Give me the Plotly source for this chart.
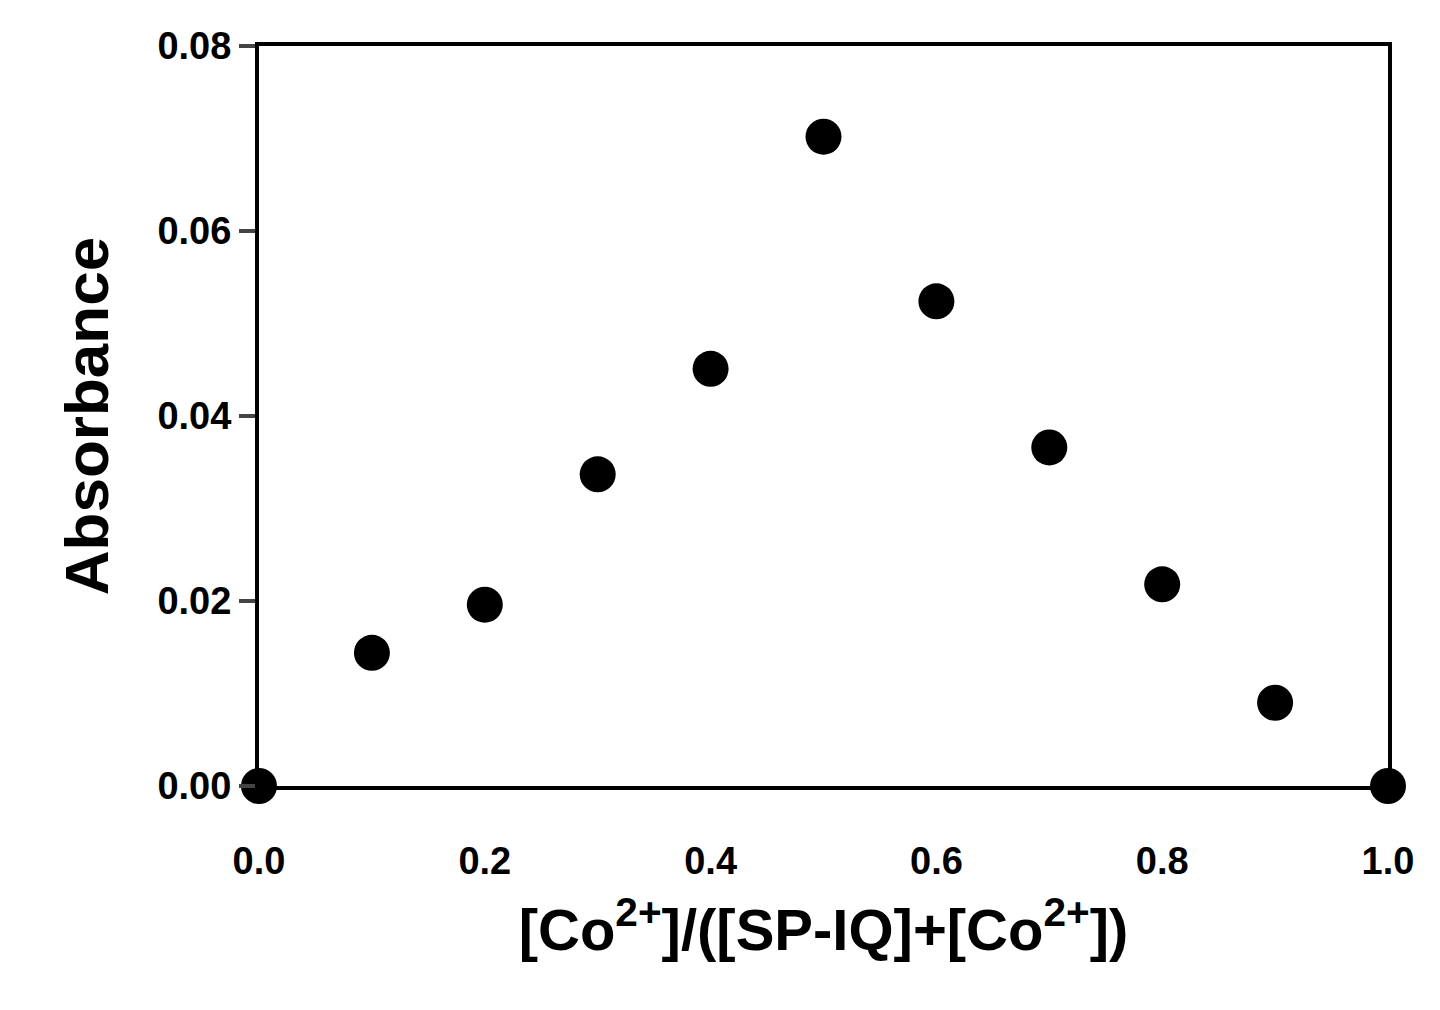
import plotly.graph_objects as go

# mole fraction of Co2+ vs absorbance (Job's plot)
mole_fraction = [0.0, 0.1, 0.2, 0.3, 0.4, 0.5, 0.6, 0.7, 0.8, 0.9, 1.0]
absorbance = [0.0, 0.0144, 0.0196, 0.0337, 0.0451, 0.0702, 0.0524, 0.0366, 0.0218, 0.0090, 0.0]

x_ticks = [0.0, 0.2, 0.4, 0.6, 0.8, 1.0]
y_ticks = [0.0, 0.02, 0.04, 0.06, 0.08]

fig = go.Figure()
fig.add_trace(go.Scatter(x=mole_fraction, y=absorbance, mode='markers',
                         marker=dict(color='black', size=36), cliponaxis=False))

tick_font = dict(family='Liberation Sans, Arial', size=38, color='black')
fig.update_layout(
    width=1440, height=1010, plot_bgcolor='white', paper_bgcolor='white',
    margin=dict(l=251, r=60, t=38, b=232), showlegend=False,
    font=dict(family='Liberation Sans, Arial', color='black'),
    xaxis=dict(range=[0, 1.0], tickvals=x_ticks,
               ticktext=['<b>%.1f</b>' % v for v in x_ticks], tickfont=tick_font,
               showline=True, linewidth=4, linecolor='black', mirror=True,
               showgrid=False, zeroline=False, ticks='outside', ticklen=38,
               tickcolor='rgba(0,0,0,0)',
               title=dict(text='<b>[Co<sup>2+</sup>]/([SP-IQ]+[Co<sup>2+</sup>])</b>',
                          font=dict(size=58), standoff=30)),
    yaxis=dict(range=[0, 0.08], tickvals=y_ticks,
               ticktext=['<b>%.2f</b>' % v for v in y_ticks], tickfont=tick_font,
               showline=True, linewidth=4, linecolor='black', mirror=True,
               showgrid=False, zeroline=False, ticks='outside', ticklen=16, tickwidth=4,
               title=dict(text='<b>Absorbance</b>', font=dict(size=62), standoff=30)),
)

fig.write_html("out.html")
